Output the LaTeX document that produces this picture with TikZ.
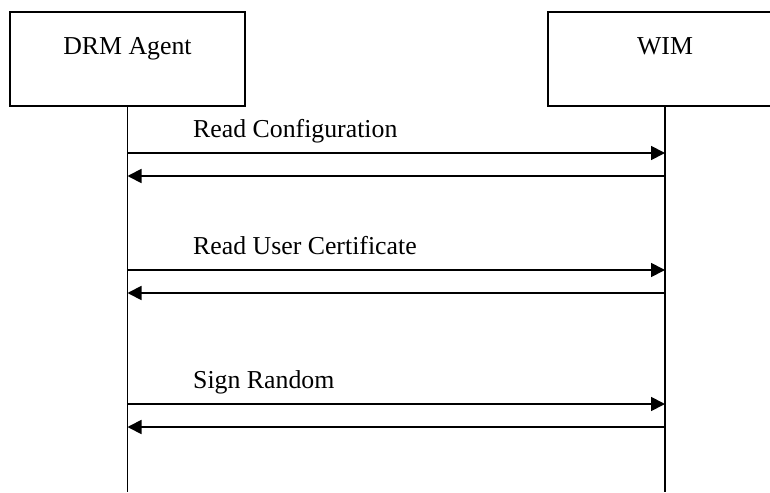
\documentclass[tikz,border=0pt]{standalone}
\usepackage{fontspec}
\setmainfont{Liberation Serif}
\usetikzlibrary{arrows.meta}
\begin{document}
\begin{tikzpicture}[x=1pt,y=-1pt,
  every node/.style={font=\fontsize{25.8}{30}\selectfont, inner sep=0pt},
  actor/.style={draw, line width=1.8pt, fill=white},
  life/.style={line width=1.8pt},
  msg/.style={line width=1.8pt, -{Triangle[length=14pt,width=14pt]}},
  lbl/.style={anchor=base west}]
\useasboundingbox (0,0) rectangle (770,492);
% actor boxes
\draw[actor] (10,12) rectangle (245,106);
\draw[actor] (548,12) rectangle (782,106);
\node[anchor=base] (drm) at (127.5,55) {DRM Agent};
\node[anchor=base] (wim) at (665,55) {WIM};
% lifelines
\coordinate (drmtop) at (127.5,106);
\coordinate (drmbot) at (127.5,492);
\coordinate (wimtop) at (665,106);
\coordinate (wimbot) at (665,492);
\draw[life] (drmtop) -- (drmbot);
\draw[life] (wimtop) -- (wimbot);
% message endpoints
\foreach \n/\y in {a1/153, a2/176, b1/270, b2/293, c1/404, c2/427}{
  \coordinate (L\n) at (127.5,\y);
  \coordinate (R\n) at (665,\y);
}
\draw[msg] (La1) -- (Ra1);
\draw[msg] (Ra2) -- (La2);
\draw[msg] (Lb1) -- (Rb1);
\draw[msg] (Rb2) -- (Lb2);
\draw[msg] (Lc1) -- (Rc1);
\draw[msg] (Rc2) -- (Lc2);
% labels
\node[lbl] (m1) at (193,137) {Read Configuration};
\node[lbl] (m2) at (193,254) {Read User Certificate};
\node[lbl] (m3) at (193,388) {Sign Random};
\end{tikzpicture}
\end{document}
